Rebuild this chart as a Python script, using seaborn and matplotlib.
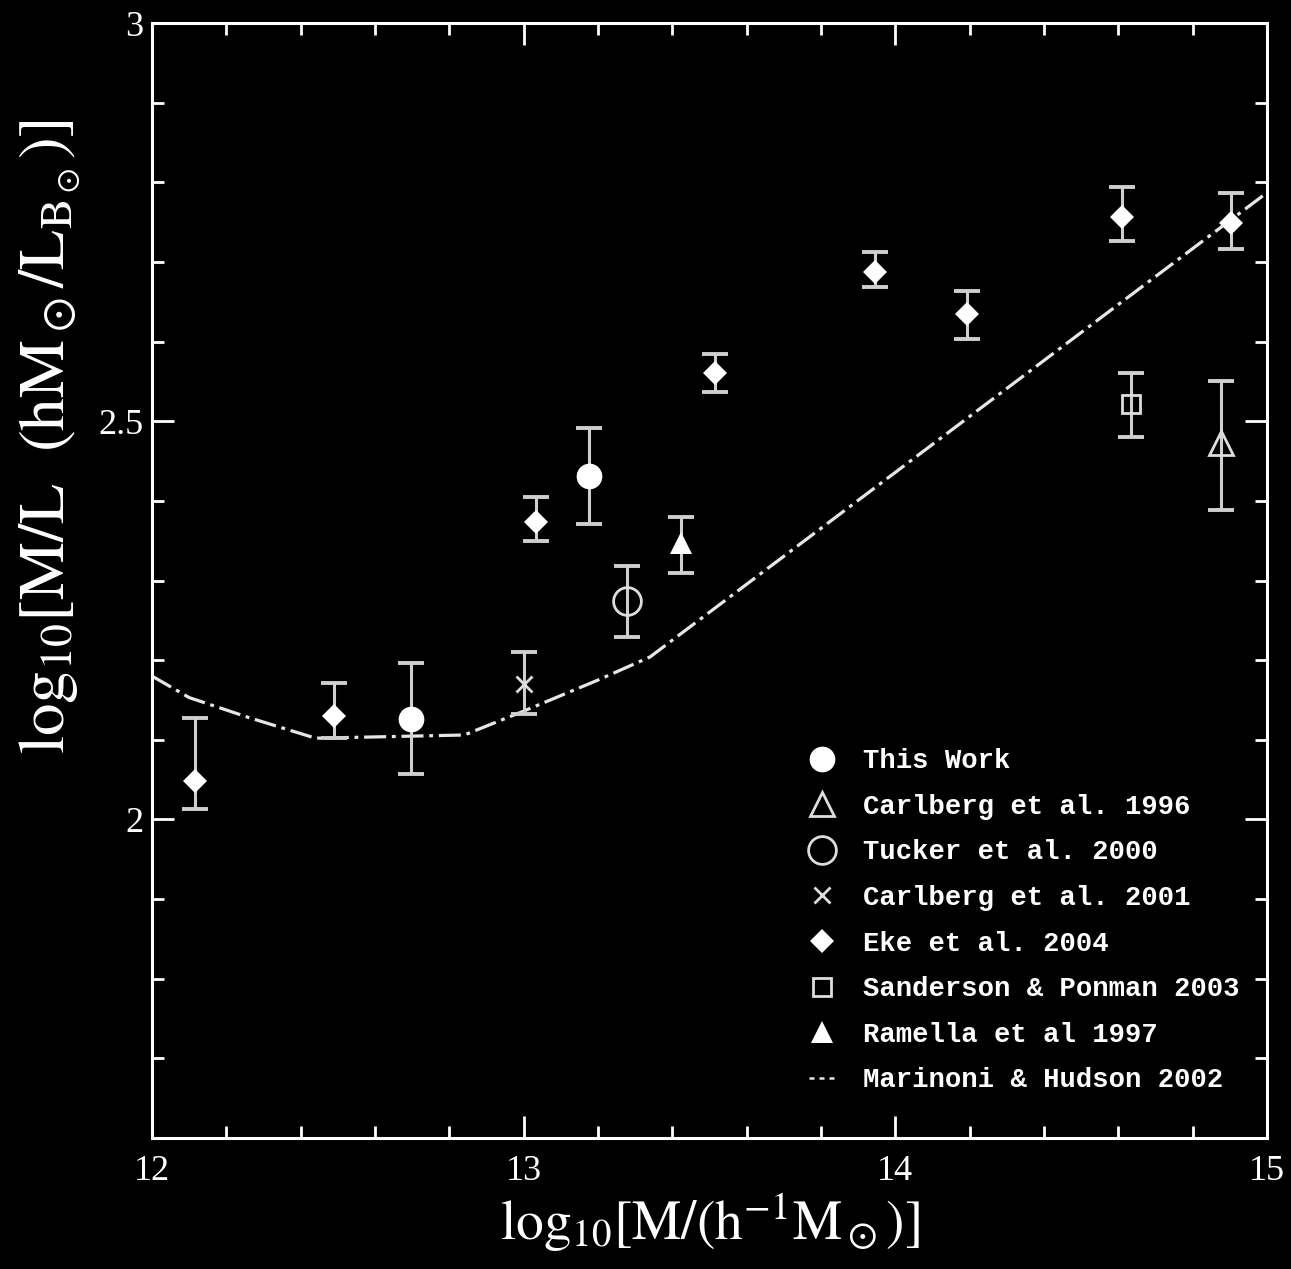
import numpy as np
import matplotlib
matplotlib.use("Agg")
import matplotlib.pyplot as plt
from matplotlib.lines import Line2D
from matplotlib.ticker import MultipleLocator
import pandas as pd
import seaborn as sns

# This Work
this_x = [12.698, 13.175]
this_y = [2.126, 2.431]
this_lo = [2.057, 2.371]
this_hi = [2.197, 2.491]

# Eke et al. 2004
eke_x = [12.115, 12.489, 13.034, 13.515, 13.945, 14.192, 14.611, 14.904]
eke_y = [2.048, 2.130, 2.373, 2.561, 2.687, 2.635, 2.756, 2.749]
eke_lo = [2.013, 2.102, 2.350, 2.537, 2.669, 2.603, 2.726, 2.716]
eke_hi = [2.127, 2.171, 2.405, 2.584, 2.713, 2.664, 2.794, 2.787]

# single-point samples
carl96_x, carl96_y, carl96_lo, carl96_hi = [14.877], [2.473], [2.389], [2.550]
tucker_x, tucker_y, tucker_lo, tucker_hi = [13.279], [2.274], [2.229], [2.318]
carl01_x, carl01_y, carl01_lo, carl01_hi = [13.0], [2.170], [2.133], [2.210]
sand_x, sand_y, sand_lo, sand_hi = [14.635], [2.521], [2.480], [2.561]
ram_x, ram_y, ram_lo, ram_hi = [13.424], [2.347], [2.309], [2.380]

# Marinoni & Hudson 2002 curve
mh_x = [12.0, 12.10, 12.26, 12.44, 12.84, 13.0, 13.20, 13.34, 15.0]
mh_y = [2.180, 2.153, 2.128, 2.102, 2.106, 2.136, 2.175, 2.204, 2.787]

sns.set_theme(style="ticks")
plt.rcParams.update({
    "figure.facecolor": "black",
    "axes.facecolor": "black",
    "axes.edgecolor": "white",
    "xtick.color": "white",
    "ytick.color": "white",
    "text.color": "white",
    "axes.labelcolor": "white",
    "mathtext.fontset": "stix",
})
plt.rcParams["font.family"] = ["Liberation Serif", "DejaVu Serif"]

bar_col = "#cfcfcf"
fig = plt.figure(figsize=(12.91, 12.69), dpi=100)
ax = fig.add_axes([152 / 1291, 1 - 1138 / 1269, 1115 / 1291, 1115 / 1269])


def bars(x, y, lo, hi):
    y = np.array(y)
    err = [y - np.array(lo), np.array(hi) - y]
    ax.errorbar(x, y, yerr=err, fmt="none", ecolor=bar_col, elinewidth=2.2,
                capsize=9.7, capthick=2.8, zorder=2)


for s in [(this_x, this_y, this_lo, this_hi), (eke_x, eke_y, eke_lo, eke_hi),
          (carl96_x, carl96_y, carl96_lo, carl96_hi), (tucker_x, tucker_y, tucker_lo, tucker_hi),
          (carl01_x, carl01_y, carl01_lo, carl01_hi), (sand_x, sand_y, sand_lo, sand_hi),
          (ram_x, ram_y, ram_lo, ram_hi)]:
    bars(*s)

mh = pd.DataFrame({"x": mh_x, "y": mh_y})
sns.lineplot(data=mh, x="x", y="y", ax=ax, sort=False, color="#e6e6e6", lw=2.3,
             dashes=False, zorder=1)
ax.lines[-1].set_dashes([6.9, 1.8, 1.2, 1.8])

styles = {
    "This Work": dict(marker="o", ms=18.5, mfc="white", mec="white", mew=0),
    "Carlberg et al. 1996": dict(marker="^", ms=17.5, mfc="none", mec="#dddddd", mew=2),
    "Tucker et al. 2000": dict(marker="o", ms=20, mfc="none", mec="#dddddd", mew=2),
    "Carlberg et al. 2001": dict(marker="x", ms=12, mfc="none", mec="#dddddd", mew=2),
    "Eke et al. 2004": dict(marker="D", ms=12, mfc="white", mec="white", mew=0),
    "Sanderson & Ponman 2003": dict(marker="s", ms=13, mfc="none", mec="#dddddd", mew=2),
    "Ramella et al 1997": dict(marker="^", ms=16.5, mfc="white", mec="white", mew=0),
}
pts = {
    "This Work": (this_x, this_y),
    "Carlberg et al. 1996": (carl96_x, carl96_y),
    "Tucker et al. 2000": (tucker_x, tucker_y),
    "Carlberg et al. 2001": (carl01_x, carl01_y),
    "Eke et al. 2004": (eke_x, eke_y),
    "Sanderson & Ponman 2003": (sand_x, sand_y),
    "Ramella et al 1997": (ram_x, ram_y),
}
for name, (x, y) in pts.items():
    ax.plot(x, y, ls="none", zorder=3, **styles[name])

handles = [Line2D([], [], ls="none", **styles[n]) for n in styles]
handles.append(Line2D([], [], color="#e6e6e6", lw=1.8, dashes=[2, 2]))
labels = list(styles) + ["Marinoni & Hudson 2002"]
ax.legend(handles, labels, loc="upper left", bbox_to_anchor=(0.589, 0.3496),
          frameon=False, prop={"family": "Liberation Mono", "weight": "bold", "size": 19.6},
          handlelength=1.0, handletextpad=1.0, labelspacing=0.72, borderpad=0,
          borderaxespad=0, numpoints=1)

ax.set_xlim(12, 15)
ax.set_ylim(1.6, 3)
ax.xaxis.set_major_locator(MultipleLocator(1))
ax.xaxis.set_minor_locator(MultipleLocator(0.2))
ax.yaxis.set_major_locator(MultipleLocator(0.5))
ax.yaxis.set_minor_locator(MultipleLocator(0.1))
ax.set_xticks([12, 13, 14, 15], ["12", "13", "14", "15"])
ax.set_yticks([2, 2.5, 3], ["2", "2.5", "3"])
ax.tick_params(which="both", direction="in", top=True, right=True, width=2, labelsize=26)
ax.tick_params(which="major", length=16)
ax.tick_params(axis="y", which="major", pad=6)
ax.tick_params(axis="x", which="major", pad=12)
ax.tick_params(which="minor", length=8.5)
for sp in ax.spines.values():
    sp.set_linewidth(2.2)
    sp.set_visible(True)

ax.set_xlabel(r"$\mathrm{log_{10}[M/(h^{-1}M_\odot)]}$", fontsize=40, labelpad=2)
ax.set_ylabel(r"$\mathrm{log_{10}[M/L\ \ (hM_\odot/L_{B_\odot})]}$", fontsize=47)
ax.yaxis.set_label_coords(-0.062, 0.629)

fig.savefig("out.png", dpi=100, facecolor="black")
